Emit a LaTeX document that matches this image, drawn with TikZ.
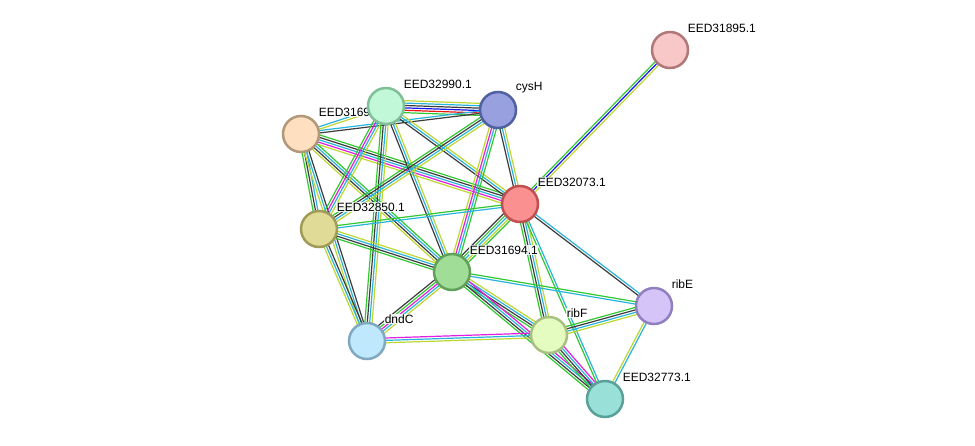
\documentclass[tikz,border=0pt]{standalone}
\usepackage{fontspec}
\setmainfont{Liberation Sans}
\usetikzlibrary{calc}
\pgfdeclarelayer{edges}
\pgfdeclarelayer{labels}
\pgfsetlayers{edges,labels,main}
\definecolor{eg}{RGB}{50,200,50}
\definecolor{er}{RGB}{240,20,20}
\definecolor{eb}{RGB}{20,20,240}
\definecolor{ek}{RGB}{60,60,60}
\definecolor{ec}{RGB}{40,180,220}
\definecolor{em}{RGB}{225,30,225}
\definecolor{ey}{RGB}{190,215,50}
\tikzset{
  prot/.style={circle, minimum size=36pt, inner sep=0pt, line width=2.5pt},
  lbl/.style={anchor=west, font=\fontsize{12}{14}\selectfont, fill=white, fill opacity=0.85, text opacity=1, inner sep=0.6pt},
  edgeline/.style={line width=1.2pt},
}
\newcommand\link[3]{%
  \foreach \c [count=\n] in {#3} {\xdef\linkn{\n}}%
  \foreach \c [count=\i] in {#3} {%
    \pgfmathsetmacro\off{(\i-(\linkn+1)/2)*2.4}%
    \draw[edgeline,draw=\c] ($(#1)!\off pt!90:(#2)$) -- ($(#2)!\off pt!-90:(#1)$);
  }%
}
\begin{document}
\begin{tikzpicture}[x=1pt,y=-1pt]
\useasboundingbox (0,0) rectangle (975,445);
% nodes
\node[prot, fill={rgb,255:red,248;green,200;blue,200}, draw={rgb,255:red,176;green,120;blue,120}] (A) at (670,50) {};
\node[prot, fill={rgb,255:red,192;green,248;blue,216}, draw={rgb,255:red,128;green,192;blue,152}] (B) at (386,106) {};
\node[prot, fill={rgb,255:red,152;green,160;blue,224}, draw={rgb,255:red,80;green,96;blue,160}] (C) at (498,110) {};
\node[prot, fill={rgb,255:red,254;green,224;blue,192}, draw={rgb,255:red,176;green,152;blue,120}] (D) at (301,134) {};
\node[prot, fill={rgb,255:red,250;green,144;blue,144}, draw={rgb,255:red,192;green,80;blue,80}] (E) at (520,204) {};
\node[prot, fill={rgb,255:red,224;green,220;blue,152}, draw={rgb,255:red,160;green,156;blue,88}] (F) at (319,229) {};
\node[prot, fill={rgb,255:red,160;green,222;blue,152}, draw={rgb,255:red,96;green,160;blue,88}] (G) at (452,272) {};
\node[prot, fill={rgb,255:red,212;green,196;blue,248}, draw={rgb,255:red,144;green,128;blue,192}] (H) at (654,306) {};
\node[prot, fill={rgb,255:red,192;green,232;blue,252}, draw={rgb,255:red,128;green,168;blue,192}] (I) at (367,341) {};
\node[prot, fill={rgb,255:red,228;green,252;blue,192}, draw={rgb,255:red,168;green,192;blue,128}] (J) at (549,335) {};
\node[prot, fill={rgb,255:red,152;green,224;blue,216}, draw={rgb,255:red,88;green,160;blue,152}] (K) at (605,399) {};
% labels
\begin{pgfonlayer}{labels}
\node[lbl] (lA) at ($(A)+(17,-22)$) {EED31895.1};
\node[lbl] (lB) at ($(B)+(17,-22)$) {EED32990.1};
\node[lbl] (lC) at ($(C)+(17,-22)$) {cysH};
\node[lbl] (lD) at ($(D)+(17,-22)$) {EED3169};
\node[lbl] (lE) at ($(E)+(17,-22)$) {EED32073.1};
\node[lbl] (lF) at ($(F)+(17,-22)$) {EED32850.1};
\node[lbl] (lG) at ($(G)+(17,-22)$) {EED31694.1};
\node[lbl] (lH) at ($(H)+(17,-22)$) {ribE};
\node[lbl] (lI) at ($(I)+(17,-22)$) {dndC};
\node[lbl] (lJ) at ($(J)+(17,-22)$) {ribF};
\node[lbl] (lK) at ($(K)+(17,-22)$) {EED32773.1};
\end{pgfonlayer}
% edges
\begin{pgfonlayer}{edges}
\fill[white] (0,0) rectangle (975,445);
\link{A}{E}{eg,eb,ey}
\link{B}{C}{eg,er,eb,ek,ec,ey}
\link{D}{B}{ey,ec}
\link{D}{C}{ek,ec}
\link{D}{E}{ey,em,ec,ek,eg}
\link{D}{F}{eg,ek,ec}
\link{D}{G}{ey,ek,ec,eg}
\link{D}{I}{ey,ec,ek}
\link{B}{E}{ek,ec,ey}
\link{B}{F}{eg,em,ec,ey}
\link{B}{G}{ek,ec,ey}
\link{B}{I}{eg,ek,ec,ey}
\link{C}{E}{ek,ec,ey}
\link{C}{F}{eg,ek,ec,ey}
\link{C}{G}{ey,em,ec,eg}
\link{E}{F}{eg,ec}
\link{E}{G}{ek,eg,ec,ey,eg}
\link{E}{H}{ek,ec}
\link{E}{J}{eg,ek,ec,ey}
\link{E}{K}{eg,ec}
\link{F}{G}{eg,ek,ec,ey}
\link{F}{I}{ey,ec,ek}
\link{G}{H}{ec,eg}
\link{G}{I}{ek,eg,em,ec,ey}
\link{G}{J}{eg,ek,ec,ey}
\link{G}{K}{eg,ek,ec,em}
\link{I}{J}{ey,ec,em}
\link{J}{H}{ey,ec,ek,eg}
\link{H}{K}{ey,ec}
\link{J}{K}{eg,ek,ec,em}
\end{pgfonlayer}
\end{tikzpicture}
\end{document}
